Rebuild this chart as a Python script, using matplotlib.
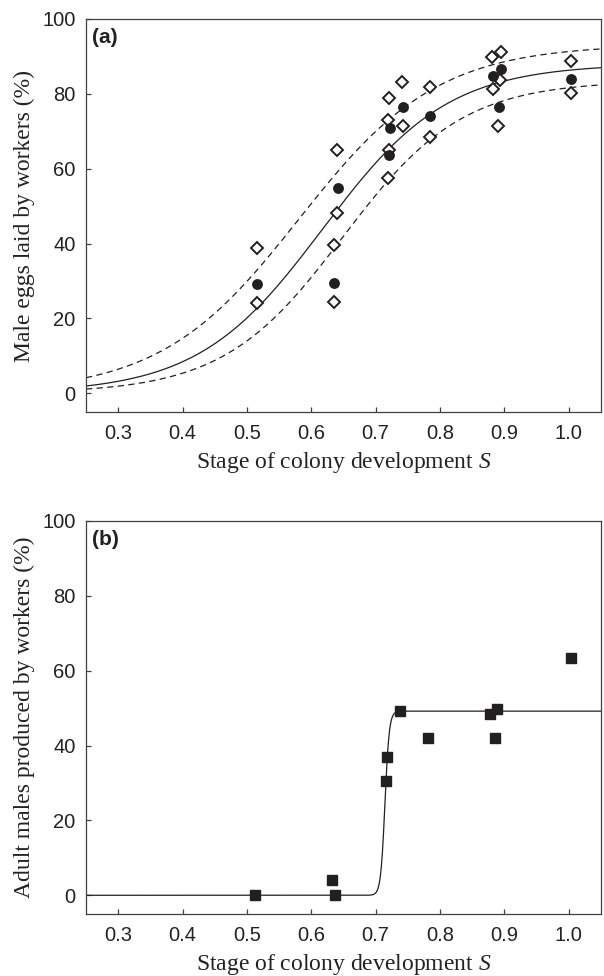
import numpy as np
import matplotlib
matplotlib.use("Agg")
import matplotlib.pyplot as plt

# ---------------- data ----------------
# Panel (a): male eggs laid by workers (%)
a_mean_x = [0.515, 0.641, 0.636, 0.743, 0.722, 0.721, 0.784, 0.894, 0.883, 0.892, 1.004]
a_mean_y = [29.3, 54.9, 29.5, 76.6, 70.8, 63.7, 74.2, 86.7, 84.8, 76.4, 84.0]

a_ind_x = [0.515, 0.515, 0.640, 0.635, 0.635, 0.640, 0.741, 0.784, 0.721, 0.719,
           0.742, 0.784, 0.721, 0.719, 0.881, 0.894, 0.893, 0.882, 0.890, 1.004, 1.004]
a_ind_y = [38.9, 24.2, 48.2, 39.5, 24.3, 65.1, 83.3, 81.8, 78.8, 73.1,
           71.3, 68.6, 65.1, 57.5, 89.8, 91.1, 83.7, 81.2, 71.5, 88.9, 80.2]

# logistic fit of panel (a): (asymptote, slope, midpoint)
a_fit = (88.0, 10.3, 0.618)
a_upper = (93.2, 9.26, 0.581)
a_lower = (83.5, 10.76, 0.649)

# Panel (b): adult males produced by workers (%)
b_x = [0.513, 0.632, 0.637, 0.716, 0.718, 0.738, 0.781, 0.878, 0.889, 0.886, 1.004]
b_y = [0.0, 4.0, 0.0, 30.5, 37.0, 49.2, 41.9, 48.4, 49.8, 41.9, 63.5]
b_fit = (49.2, 300.0, 0.7144)

x_ticks = [0.3, 0.4, 0.5, 0.6, 0.7, 0.8, 0.9, 1.0]
x_ticklabels = ["0.3", "0.4", "0.5", "0.6", "0.7", "0.8", "0.9", "1.0"]
y_ticks = [0, 20, 40, 60, 80, 100]

xlabel = "Stage of colony development $\\mathit{S}$"
ylabel_a = "Male eggs laid by workers (%)"
ylabel_b = "Adult males produced by workers (%)"


def logistic(x, p):
    A, k, x0 = p
    return A / (1.0 + np.exp(-k * (x - x0)))


# ---------------- figure ----------------
plt.rcParams["mathtext.fontset"] = "custom"
plt.rcParams["mathtext.it"] = "Liberation Serif:italic"
plt.rcParams["mathtext.rm"] = "Liberation Serif"

ink = "#231f20"
spine_c = "#404040"
fig = plt.figure(figsize=(6.04, 9.76), dpi=100)
W, H = 604.0, 976.0
ax_a = fig.add_axes([86 / W, (H - 412) / H, 515 / W, 393 / H])
ax_b = fig.add_axes([86 / W, (H - 914) / H, 515 / W, 393 / H])

xs = np.linspace(0.25, 1.05, 600)

# panel a
ax_a.plot(xs, logistic(xs, a_upper), color=ink, lw=0.9, ls=(0, (5, 3.5)))
ax_a.plot(xs, logistic(xs, a_lower), color=ink, lw=0.9, ls=(0, (5, 3.5)))
ax_a.plot(xs, logistic(xs, a_fit), color=ink, lw=0.9)
ax_a.plot(a_ind_x, a_ind_y, ls="none", marker="D", ms=6.0, mfc="white",
          mec=ink, mew=1.4, zorder=3)
ax_a.plot(a_mean_x, a_mean_y, ls="none", marker="o", ms=6.8, mfc=ink,
          mec=ink, zorder=4)

# panel b
xs_b = np.linspace(0.25, 1.05, 3000)
ax_b.plot(xs_b, logistic(xs_b, b_fit), color=ink, lw=0.9)
ax_b.plot(b_x, b_y, ls="none", marker="s", ms=7.0, mfc=ink, mec=ink, zorder=4)

for ax, yl, tag in ((ax_a, ylabel_a, "(a)"), (ax_b, ylabel_b, "(b)")):
    ax.set_xlim(0.25, 1.05)
    ax.set_ylim(-5, 100)
    ax.set_xticks(x_ticks)
    ax.set_xticklabels(x_ticklabels)
    ax.set_yticks(y_ticks)
    ax.tick_params(direction="in", length=3.5, width=0.9, color=spine_c,
                   labelsize=14.5, top=False, right=False)
    ax.tick_params(axis="y", pad=7.5)
    ax.tick_params(axis="x", pad=8.5)
    for lab in ax.get_xticklabels() + ax.get_yticklabels():
        lab.set_fontfamily("Liberation Sans")
        lab.set_color("#222222")
    for sp in ax.spines.values():
        sp.set_color(spine_c)
        sp.set_linewidth(0.9)
    ax.set_xlabel(xlabel, fontfamily="Liberation Serif", fontsize=17, color="#222222")
    ax.set_ylabel(yl, fontfamily="Liberation Serif", fontsize=17, color="#222222")
    ax.xaxis.set_label_coords(0.5, -0.097)
    ax.yaxis.set_label_coords(-0.099, 0.5)
    ax.text(0.012, 0.978, tag, transform=ax.transAxes, ha="left", va="top",
            fontfamily="Liberation Sans", fontweight="bold", fontsize=15,
            color="#222222")

fig.savefig("out.png", dpi=100)
